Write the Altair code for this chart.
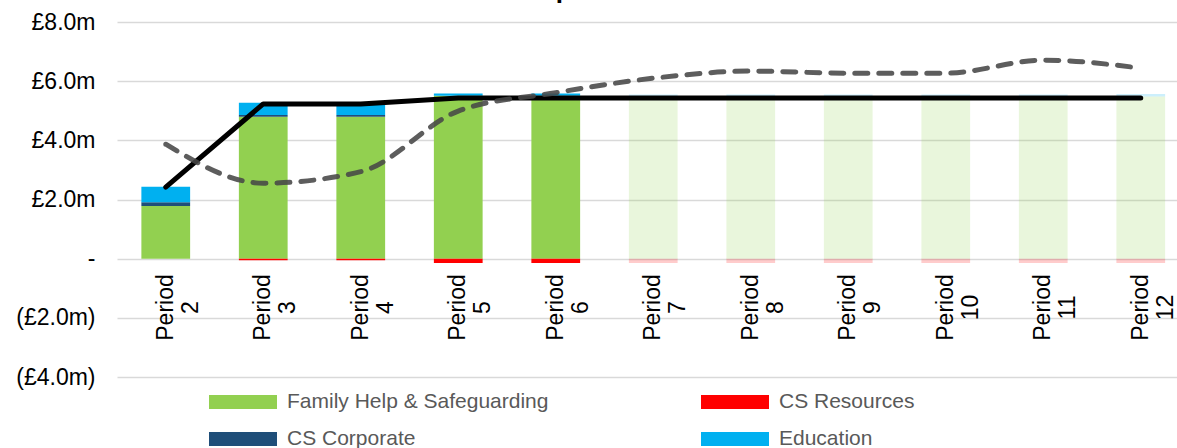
import altair as alt
import pandas as pd

# Reporting periods shown on the category axis
periods = ["Period 2", "Period 3", "Period 4", "Period 5", "Period 6", "Period 7",
           "Period 8", "Period 9", "Period 10", "Period 11", "Period 12"]
# Periods after this index are projections and are drawn faded
last_actual_index = 4

# Forecast variance by service area (£m)
family_help = [1.78, 4.80, 4.80, 5.51, 5.51, 5.48, 5.48, 5.48, 5.48, 5.48, 5.48]
cs_resources = [0.00, -0.05, -0.05, -0.15, -0.15, -0.15, -0.15, -0.15, -0.15, -0.15, -0.15]
cs_corporate = [0.13, 0.06, 0.06, 0.00, 0.00, 0.00, 0.00, 0.00, 0.00, 0.00, 0.00]
education = [0.52, 0.41, 0.38, 0.07, 0.07, 0.07, 0.07, 0.07, 0.07, 0.07, 0.09]

# Net forecast position (solid) and previous-year trend (dashed), £m
net_position = [2.42, 5.23, 5.23, 5.43, 5.43, 5.43, 5.43, 5.43, 5.43, 5.43, 5.43]
trend_line = [3.87, 2.55, 2.94, 4.99, 5.61, 6.10, 6.34, 6.27, 6.27, 6.71, 6.44]

title_text = "Forecast outturn and cumulative impact on Children's Services"

services = ["Family Help & Safeguarding", "CS Resources", "CS Corporate", "Education"]
service_colors = ["#92D050", "#FF0000", "#1F4E79", "#00B0F0"]
stack_rank = {"Family Help & Safeguarding": 0, "CS Corporate": 1, "Education": 2, "CS Resources": 3}
series = dict(zip(services, [family_help, cs_resources, cs_corporate, education]))

rows = []
for name, values in series.items():
    for i, (p, v) in enumerate(zip(periods, values)):
        rows.append({"period": p, "service": name, "value": v,
                     "rank": stack_rank[name], "projected": i > last_actual_index})
bars_df = pd.DataFrame(rows)
lines_df = pd.DataFrame({"period": periods, "net": net_position, "trend": trend_line})

FONT = "Liberation Sans"

x_enc = alt.X(
    "period:N", sort=periods,
    scale=alt.Scale(range=[0, 1072.5], paddingInner=0.5, paddingOuter=0.25),
    axis=alt.Axis(title=None, labelAngle=-90, labelAlign="center", labelBaseline="middle",
                  labelExpr="split(datum.value, ' ')", labelFontSize=23, labelLineHeight=25,
                  labelPadding=48, labelFont=FONT, labelColor="black", ticks=False,
                  domain=False, grid=False, offset=-118, labelOverlap=False),
)

y_scale = alt.Scale(domain=[-4, 8], nice=False, zero=True)
y_axis = alt.Axis(
    title=None, values=[-4, -2, 0, 2, 4, 6, 8], domain=False, ticks=False,
    labelExpr="datum.value == 0 ? '-' : (datum.value < 0 ? '(£' + format(-datum.value, '.1f') + 'm)' : '£' + format(datum.value, '.1f') + 'm')",
    labelFontSize=23, labelFont=FONT, labelColor="black", labelPadding=22,
    gridColor="#D9D9D9", gridWidth=1.5,
)

bars = alt.Chart(bars_df).mark_bar().encode(
    x=x_enc,
    y=alt.Y("value:Q", stack="zero", scale=y_scale, axis=y_axis),
    color=alt.Color(
        "service:N",
        scale=alt.Scale(domain=services, range=service_colors),
        legend=alt.Legend(
            title=None, orient="none", legendX=92, legendY=371, columns=2,
            direction="horizontal",
            symbolType="M-1,-0.206L1,-0.206L1,0.206L-1,0.206Z", symbolSize=4624,
            symbolStrokeWidth=0, labelFontSize=21, labelFont=FONT, labelColor="#595959",
            labelOffset=10, columnPadding=152, rowPadding=16, clipHeight=18,
            padding=0, labelLimit=500,
        ),
    ),
    order=alt.Order("rank:Q"),
    opacity=alt.condition("datum.projected", alt.value(0.2), alt.value(1.0)),
)

trend = alt.Chart(lines_df).mark_line(
    color="#474747", strokeOpacity=0.88, strokeWidth=5, strokeDash=[13, 11],
    strokeCap="round", interpolate="monotone",
).encode(x=alt.X("period:N", sort=periods), y=alt.Y("trend:Q", scale=y_scale, axis=y_axis))

net = alt.Chart(lines_df).mark_line(
    color="#000000", strokeWidth=5, strokeCap="round", strokeJoin="round",
).encode(x=alt.X("period:N", sort=periods), y=alt.Y("net:Q", scale=y_scale, axis=y_axis))

title = alt.Chart(pd.DataFrame({"caption": [title_text]})).mark_text(
    align="left", baseline="alphabetic", fontSize=26, fontWeight="bold", font=FONT, color="black",
).encode(text="caption:N", x=alt.value(-2), y=alt.value(-24))

chart = alt.layer(bars, net, trend, title).properties(
    width=1060, height=355,
    autosize=alt.AutoSizeParams(type="none"),
    padding={"left": 117, "top": 22, "right": 0, "bottom": 71},
    background="white",
).configure_view(stroke=None)

chart.save("out.html", embed_options={"renderer": "svg", "actions": False})
